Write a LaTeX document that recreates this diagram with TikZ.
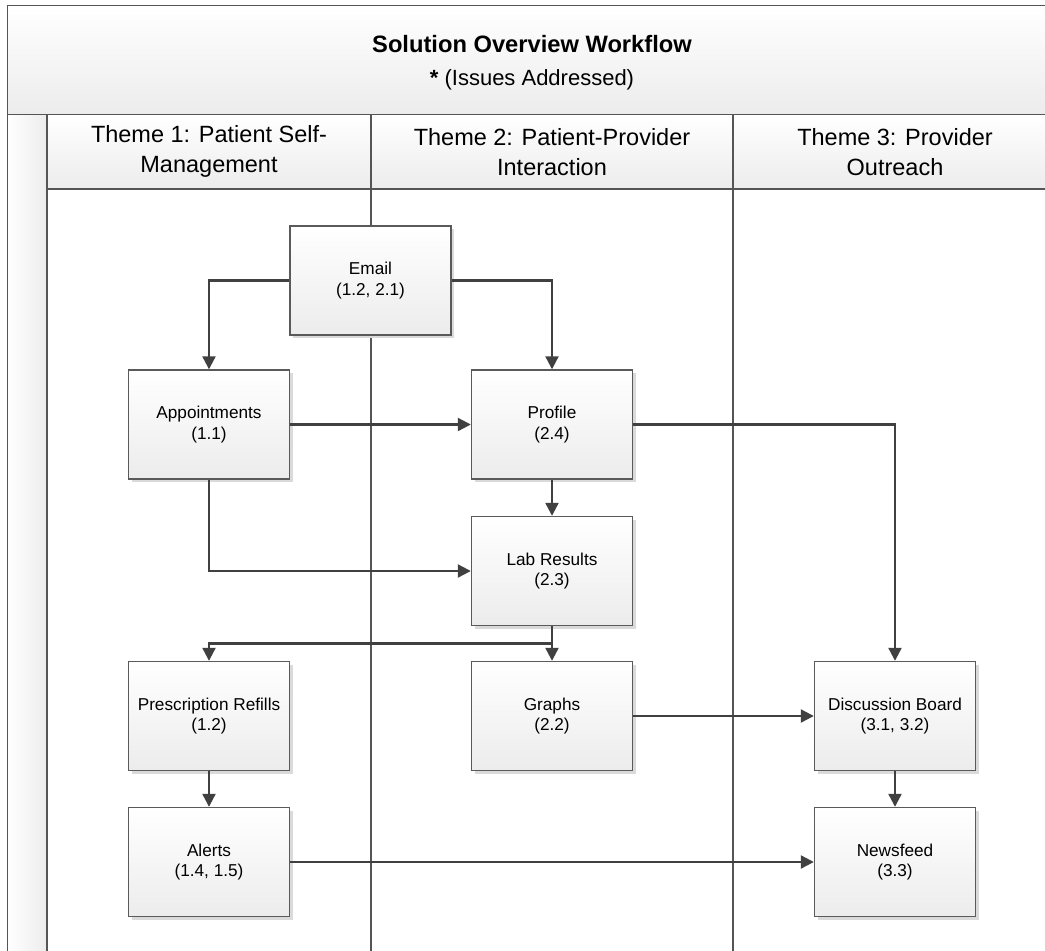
\documentclass[tikz,border=0pt]{standalone}
\usepackage{fontspec}
\setmainfont{Liberation Sans}
\usetikzlibrary{arrows.meta,calc,shadows}
\definecolor{ink}{HTML}{404040}
\definecolor{frame}{HTML}{555555}
\definecolor{boxline}{HTML}{5A5A5A}
\definecolor{softgray}{HTML}{ECECEC}
\definecolor{shadowgray}{HTML}{DADADA}

\begin{document}
\begin{tikzpicture}[x=1pt,y=-1pt,line join=miter]
  \tikzset{
    lane/.style={draw=frame,line width=1.9pt},
    header/.style={lane,top color=white,bottom color=softgray,align=center,font=\fontsize{23.5}{30}\selectfont},
    task/.style={draw=boxline,line width=1.4pt,top color=white,bottom color=softgray,
      minimum width=161pt,minimum height=109pt,align=center,font=\fontsize{17.2}{20.5}\selectfont,
      drop shadow={shadow xshift=3pt,shadow yshift=-3pt,fill=shadowgray,opacity=1}},
    flow/.style={ink,line width=2.2pt,-{Triangle[length=13pt,width=13pt]}}
  }
  \useasboundingbox (0,0) rectangle (1045,951);

  % Pool frame and lanes.
  \draw[header] (7.5,5.5) rectangle (1060,114.5);
  \node[align=center,font=\fontsize{22}{33}\selectfont] (title) at (532,63)
    {\fontsize{23.7}{33}\selectfont\textbf{Solution Overview Workflow}\\\textbf{*} (Issues Addressed)};
  \draw[lane,left color=white,right color=softgray] (7.5,114.5) rectangle (47,960);
  \node[header,minimum width=324pt,minimum height=74.5pt] (theme1) at (209,151.75)
    {Theme 1: Patient Self-\\Management};
  \node[header,minimum width=362pt,minimum height=74.5pt] (theme2) at (552,151.75)
    {Theme 2: Patient-Provider\\Interaction};
  \node[header,minimum width=324pt,minimum height=74.5pt] (theme3) at (895,151.75)
    {Theme 3: Provider\\Outreach};
  \draw[lane] (371,189) -- (371,960);
  \draw[lane] (733,189) -- (733,960);

  % Tasks.
  \node[task] (email) at (370.5,280.5) {Email\\(1.2, 2.1)};
  \node[task] (appt) at (209,424.5) {Appointments\\(1.1)};
  \node[task] (profile) at (552,424.5) {Profile\\(2.4)};
  \node[task] (lab) at (552,571) {Lab Results\\(2.3)};
  \node[task] (rx) at (209,716) {Prescription Refills\\(1.2)};
  \node[task] (graphs) at (552,716) {Graphs\\(2.2)};
  \node[task] (board) at (895,716) {Discussion Board\\(3.1, 3.2)};
  \node[task] (alerts) at (209,862) {Alerts\\(1.4, 1.5)};
  \node[task] (news) at (895,862) {Newsfeed\\(3.3)};

  % Flow.
  \draw[flow] (email.west) -| (appt.north);
  \draw[flow] (email.east) -| (profile.north);
  \draw[flow] (appt.east) -- (profile.west);
  \draw[flow] (appt.south) |- (lab.west);
  \draw[flow] (profile.south) -- (lab.north);
  \draw[flow] (profile.east) -| (board.north);
  \coordinate (split) at ($(lab.south)!0.5!(graphs.north)$);
  \draw[flow] (lab.south) -- (graphs.north);
  \draw[flow] (split) -| (rx.north);
  \draw[flow] (graphs.east) -- (board.west);
  \draw[flow] (rx.south) -- (alerts.north);
  \draw[flow] (alerts.east) -- (news.west);
  \draw[flow] (board.south) -- (news.north);
\end{tikzpicture}
\end{document}
